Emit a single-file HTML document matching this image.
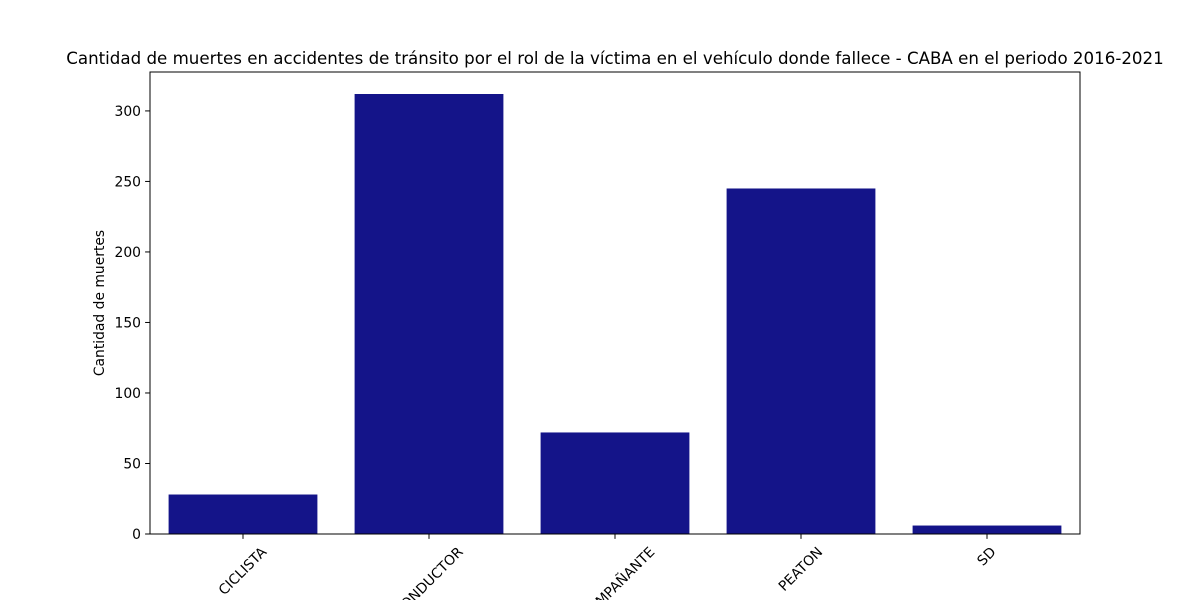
<!DOCTYPE html>
<html><head><meta charset="utf-8"><style>
html,body{margin:0;padding:0;background:#fff;}
svg text{font-family:"DejaVu Sans","Liberation Sans",sans-serif;fill:#000;}
</style></head><body>
<svg id="chart" width="1200" height="600"></svg>
<script>
const categories = ["CICLISTA","CONDUCTOR","ACOMPAÑANTE","PEATON","SD"];
const values = [28, 312, 72, 245, 6];
const yTicks = [0, 50, 100, 150, 200, 250, 300];
const titleText = "Cantidad de muertes en accidentes de tránsito por el rol de la víctima en el vehículo donde fallece - CABA en el periodo 2016-2021";
const yLabelText = "Cantidad de muertes";

const NS = "http://www.w3.org/2000/svg";
const svg = document.getElementById("chart");
const L = 150, R = 1080, T = 72, B = 534;
const FS = 13.89;
const yMax = Math.max(...values) * 1.05;
const y = v => B - (v / yMax) * (B - T);
const band = (R - L) / categories.length;
const xc = i => L + band * (i + 0.5);
function mk(tag, attrs, text) {
  const e = document.createElementNS(NS, tag);
  for (const k in attrs) e.setAttribute(k, attrs[k]);
  if (text !== undefined) e.textContent = text;
  svg.appendChild(e);
  return e;
}
categories.forEach((c, i) => {
  const r = mk("rect", {x: xc(i) - band * 0.4, y: y(values[i]), width: band * 0.8, height: B - y(values[i]), fill: "#141489"});
  
  
  const tk = mk("line", {x1: xc(i), x2: xc(i), y1: B, y2: B + 4.9, stroke: "#000", "stroke-width": 1});
  
  
  const t = mk("text", {x: 0, y: 0, "font-size": FS, "text-anchor": "middle", "dominant-baseline": "middle"}, c);
  const w = t.getComputedTextLength();
  const cy = B + 11 + (w + FS) * 0.3536;
  t.setAttribute("x", xc(i));
  t.setAttribute("y", cy);
  t.setAttribute("transform", `rotate(-45 ${xc(i)} ${cy})`);
  
  
});
yTicks.forEach(v => {
  const tk = mk("line", {x1: L - 4.9, x2: L, y1: y(v), y2: y(v), stroke: "#000", "stroke-width": 1});
  
  
  const t = mk("text", {x: L - 9, y: y(v) + 5, "font-size": FS, "text-anchor": "end"}, v);
  
  
});
const frame = mk("rect", {x: L, y: T, width: R - L, height: B - T, fill: "none", stroke: "#000", "stroke-width": 1});


const yl = mk("text", {x: 104, y: (T + B) / 2, "font-size": FS, "text-anchor": "middle", transform: `rotate(-90 104 ${(T + B) / 2})`}, yLabelText);


const ti = mk("text", {x: (L + R) / 2, y: 64, "font-size": 16.67, "text-anchor": "middle"}, titleText);


</script>
</body></html>
